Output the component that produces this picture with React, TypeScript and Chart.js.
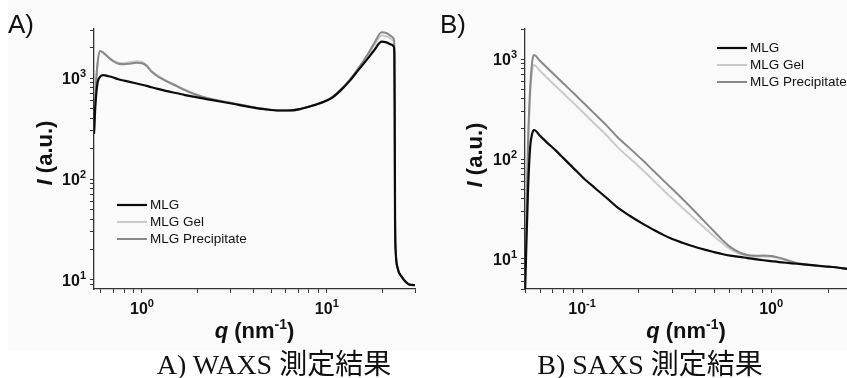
import React, { useEffect, useRef } from 'react';
import { Chart, registerables } from 'chart.js';

Chart.register(...registerables);

// ---------- data ----------
const seriesLabels = ['MLG', 'MLG Gel', 'MLG Precipitate'];
const seriesColors = ['#0b0b0b', '#cacaca', '#888888'];
const seriesWidths = [2.2, 2, 2];

// A) WAXS
const waxsQ = [0.55, 0.56, 0.575, 0.593, 0.618, 0.66, 0.70, 0.745, 0.80, 0.87, 0.936, 1.0, 1.06, 1.128, 1.25, 1.387, 1.55, 1.708, 1.9, 2.136, 2.5, 3.1, 3.8, 4.6, 5.5, 6.5, 7.2, 8.5, 10, 10.8, 12, 13.3, 14.8, 16.4, 18, 19.8, 21, 22.5, 23.0, 23.2, 23.3, 23.4, 23.6, 24.2, 25.4, 26.7, 28, 30];
const waxsMLG = [280, 550, 900, 1030, 1070, 1045, 1015, 975, 945, 912, 885, 860, 838, 812, 775, 740, 708, 680, 655, 630, 598, 558, 520, 493, 478, 480, 495, 538, 600, 650, 770, 940, 1200, 1510, 1880, 2300, 2260, 2140, 2060, 1750, 400, 40, 19, 13, 10.8, 9.6, 9.0, 8.9];
const waxsGel = [280, 700, 1400, 1870, 1790, 1610, 1490, 1420, 1410, 1445, 1470, 1450, 1350, 1180, 1030, 925, 840, 768, 705, 655, 610, 568, 525, 495, 480, 482, 497, 540, 605, 660, 785, 965, 1240, 1620, 2100, 2650, 2600, 2420, 2320, 1950, 420, 40, 19, 13, 10.8, 9.6, 9.0, 8.9];
const waxsPrec = [280, 700, 1400, 1860, 1780, 1600, 1470, 1390, 1375, 1400, 1420, 1405, 1320, 1155, 1010, 915, 830, 760, 700, 650, 606, 565, 523, 494, 479, 481, 496, 539, 603, 656, 780, 960, 1250, 1650, 2200, 2850, 2800, 2580, 2470, 2050, 430, 40, 19, 13, 10.8, 9.6, 9.0, 8.9];

// B) SAXS
const saxsQ = [0.050, 0.0508, 0.0518, 0.0531, 0.0545, 0.0557, 0.060, 0.0655, 0.0725, 0.0797, 0.0895, 0.1016, 0.116, 0.135, 0.155, 0.1795, 0.21, 0.24, 0.269, 0.30, 0.34, 0.405, 0.45, 0.50, 0.55, 0.607, 0.68, 0.75, 0.82, 0.911, 1.0, 1.1, 1.2, 1.368, 1.6, 1.9, 2.2, 2.52];
const saxsMLG = [5, 15, 50, 130, 180, 195, 170, 145, 122, 102, 82, 64.6, 51.9, 40.7, 32.4, 26.9, 22.4, 19.5, 17.4, 15.8, 14.5, 13.0, 12.3, 11.7, 11.2, 10.8, 10.5, 10.2, 9.95, 9.7, 9.5, 9.3, 9.15, 8.95, 8.7, 8.45, 8.25, 7.95];
const saxsGel = [6, 25, 120, 420, 780, 871, 759, 646, 537, 452, 368, 290, 227, 172, 130, 101, 77, 60.3, 49, 40.2, 32.4, 24, 20, 16.8, 14.5, 12.6, 11.3, 10.7, 10.5, 10.6, 10.5, 10.1, 9.7, 9.05, 8.65, 8.4, 8.22, 7.95];
const saxsPrec = [8, 30, 150, 500, 950, 1096, 955, 813, 676, 569, 462, 365, 286, 216, 163, 127, 96.4, 75.3, 61.1, 50.1, 39.8, 28.5, 23.1, 18.8, 15.6, 13.2, 11.6, 10.96, 10.76, 10.8, 10.7, 10.3, 9.8, 9.1, 8.7, 8.42, 8.23, 7.95];

// axis ranges
const waxsXRange = [0.55, 30];
const waxsYRange = [8.14, 3070];
const saxsXRange = [0.0499, 2.52];
const saxsYRange = [5.0, 2000];

const panelLabels = ['A)', 'B)'];
const captions = ['A) WAXS 測定結果', 'B) SAXS 測定結果'];
const yTitle = [{ t: 'I', italic: true }, { t: ' (a.u.)' }];
const xTitle = [{ t: 'q', italic: true }, { t: ' (nm' }, { t: '-1', sup: true }, { t: ')' }];

// ---------- helpers ----------
const FONT = '"Liberation Sans", Arial, Helvetica, sans-serif';

function buildLogTicks(scale: any) {
  const min = scale.min, max = scale.max;
  const ticks: any[] = [];
  for (let e = Math.floor(Math.log10(min)); e <= Math.ceil(Math.log10(max)); e++) {
    for (let m = 1; m < 10; m++) {
      const v = m * Math.pow(10, e);
      if (v >= min * 0.9999 && v <= max * 1.0001) ticks.push({ value: v, major: m === 1 });
    }
  }
  scale.ticks = ticks;
}

type Run = { t: string; italic?: boolean; sup?: boolean };
function measureRuns(ctx: CanvasRenderingContext2D, runs: Run[], size: number, supRatio: number) {
  const fontFor = (r: Run) => `${r.italic ? 'italic ' : ''}bold ${r.sup ? Math.round(size * supRatio) : size}px ${FONT}`;
  let total = 0;
  const widths = runs.map((r) => {
    ctx.font = fontFor(r);
    const w = ctx.measureText(r.t).width;
    total += w;
    return w;
  });
  return { total, widths, fontFor };
}
function drawRuns(ctx: CanvasRenderingContext2D, runs: Run[], x0: number, y: number, size: number, align: 'center' | 'right', supRatio = 0.62, supRise = 0.42) {
  const { total, widths, fontFor } = measureRuns(ctx, runs, size, supRatio);
  let x = align === 'center' ? x0 - total / 2 : x0 - total;
  runs.forEach((r, i) => {
    ctx.font = fontFor(r);
    ctx.fillText(r.t, x, r.sup ? y - size * supRise : y);
    x += widths[i];
  });
}

const powerRuns = (v: number): Run[] => [{ t: '10' }, { t: String(Math.round(Math.log10(v))), sup: true }];

const decorPlugin = {
  id: 'decor',
  afterDraw(chart: any, _args: any, opts: any) {
    const ctx: CanvasRenderingContext2D = chart.ctx;
    const a = chart.chartArea;
    ctx.save();
    ctx.fillStyle = '#111';
    ctx.textBaseline = 'alphabetic';
    ctx.textAlign = 'left';
    // tick labels (powers of ten) from the scales' own ticks
    const xs = chart.scales.x;
    const ys = chart.scales.y;
    xs.ticks.forEach((t: any) => {
      if (!t.major) return;
      const px = xs.getPixelForValue(t.value);
      drawRuns(ctx, powerRuns(t.value), px, a.bottom + 25, 16, 'center', 0.66, 0.45);
    });
    ys.ticks.forEach((t: any) => {
      if (!t.major) return;
      const py = ys.getPixelForValue(t.value);
      drawRuns(ctx, powerRuns(t.value), a.left - 8, py + 6, 16, 'right', 0.66, 0.45);
    });
    // y title
    ctx.save();
    ctx.translate(opts.yTitleX, opts.yTitleY);
    ctx.rotate(-Math.PI / 2);
    drawRuns(ctx, yTitle, 0, 8, 22, 'center');
    ctx.restore();
    // x title
    drawRuns(ctx, xTitle, (a.left + a.right) / 2, opts.xTitleY, 22, 'center');
    // legend
    ctx.font = `13.5px ${FONT}`;
    ctx.textBaseline = 'middle';
    chart.data.datasets.forEach((ds: any, i: number) => {
      const y = opts.legendY + i * 17;
      ctx.strokeStyle = ds.borderColor;
      ctx.lineWidth = ds.borderWidth;
      ctx.beginPath();
      ctx.moveTo(opts.legendX, y);
      ctx.lineTo(opts.legendX + 30, y);
      ctx.stroke();
      ctx.fillStyle = '#111';
      ctx.fillText(ds.label, opts.legendX + 33, y + 0.5);
    });
    ctx.restore();
  },
};

type PanelCfg = {
  left: number;
  width: number;
  q: number[];
  series: number[][];
  xRange: number[];
  yRange: number[];
  yAxisWidth: number;
  padRight: number;
  yTitleX: number;
  yTitleY: number;
  legendX: number;
  legendY: number;
};

const CANVAS_H = 350;
const PLOT_TOP = 29;
const PLOT_BOTTOM = 289;

function Panel({ cfg }: { cfg: PanelCfg }) {
  const ref = useRef<HTMLCanvasElement | null>(null);
  useEffect(() => {
    if (!ref.current) return;
    const orders = [0, 2, 1];
    const chart = new Chart(ref.current, {
      type: 'line',
      data: {
        datasets: cfg.series.map((vals, i) => ({
          label: seriesLabels[i],
          data: cfg.q.map((x, j) => ({ x, y: vals[j] })),
          borderColor: seriesColors[i],
          backgroundColor: seriesColors[i],
          borderWidth: seriesWidths[i],
          pointRadius: 0,
          cubicInterpolationMode: 'monotone' as const,
          borderJoinStyle: 'round' as const,
          fill: false,
          order: orders[i],
        })),
      },
      options: {
        responsive: false,
        animation: false,
        events: [],
        layout: { padding: { left: 0, right: cfg.padRight, top: PLOT_TOP, bottom: 0 } },
        plugins: {
          legend: { display: false },
          tooltip: { enabled: false },
          title: { display: false },
          decor: {
            yTitleX: cfg.yTitleX,
            yTitleY: cfg.yTitleY,
            xTitleY: 338,
            legendX: cfg.legendX,
            legendY: cfg.legendY,
          },
        } as any,
        scales: {
          x: {
            type: 'logarithmic',
            position: 'bottom',
            min: cfg.xRange[0],
            max: cfg.xRange[1],
            afterBuildTicks: buildLogTicks,
            afterFit: (s: any) => {
              s.height = CANVAS_H - PLOT_BOTTOM;
              s.paddingLeft = 0;
              s.paddingRight = 0;
            },
            ticks: { display: false, autoSkip: false, maxRotation: 0, minRotation: 0 },
            grid: { display: true, drawOnChartArea: false, drawTicks: true, tickLength: 4, tickColor: '#333', tickWidth: 1 },
            border: { display: true, color: '#333', width: 1.3 },
          },
          y: {
            type: 'logarithmic',
            position: 'left',
            min: cfg.yRange[0],
            max: cfg.yRange[1],
            afterBuildTicks: buildLogTicks,
            afterFit: (s: any) => {
              s.width = cfg.yAxisWidth;
              s.paddingTop = 0;
              s.paddingBottom = 0;
            },
            ticks: { display: false, autoSkip: false },
            grid: { display: true, drawOnChartArea: false, drawTicks: true, tickLength: 4, tickColor: '#333', tickWidth: 1 },
            border: { display: true, color: '#333', width: 1.3 },
          },
        } as any,
      },
      plugins: [decorPlugin as any],
    });
    return () => chart.destroy();
  }, [cfg]);
  return (
    <canvas
      ref={ref}
      width={cfg.width}
      height={CANVAS_H}
      style={{ position: 'absolute', left: cfg.left, top: 0, width: cfg.width, height: CANVAS_H }}
    />
  );
}

const waxsCfg: PanelCfg = {
  left: 0,
  width: 430,
  q: waxsQ,
  series: [waxsMLG, waxsGel, waxsPrec],
  xRange: waxsXRange,
  yRange: waxsYRange,
  yAxisWidth: 94,
  padRight: 15,
  yTitleX: 44,
  yTitleY: 153,
  legendX: 117,
  legendY: 205,
};

const saxsCfg: PanelCfg = {
  left: 430,
  width: 417,
  q: saxsQ,
  series: [saxsMLG, saxsGel, saxsPrec],
  xRange: saxsXRange,
  yRange: saxsYRange,
  yAxisWidth: 95,
  padRight: 0,
  yTitleX: 44,
  yTitleY: 155,
  legendX: 287,
  legendY: 48,
};

export default function App() {
  const labelStyle: React.CSSProperties = {
    position: 'absolute',
    top: 11,
    fontFamily: FONT,
    fontSize: 26,
    lineHeight: '26px',
    color: '#111',
    whiteSpace: 'nowrap',
  };
  const capStyle: React.CSSProperties = {
    position: 'absolute',
    top: 351,
    width: 300,
    textAlign: 'center',
    fontFamily: '"Liberation Serif", "Times New Roman", "Noto Sans CJK JP", serif',
    fontSize: 28,
    lineHeight: '28px',
    color: '#111',
    whiteSpace: 'nowrap',
  };
  return (
    <div style={{ position: 'absolute', left: 0, top: 0, width: 847, height: 378, overflow: 'hidden', background: '#ffffff' }}>
      <div style={{ position: 'absolute', left: 8, top: 0, width: 839, height: 350, background: '#fafafa' }} />
      <Panel cfg={waxsCfg} />
      <Panel cfg={saxsCfg} />
      <div style={{ ...labelStyle, left: 8 }}>{panelLabels[0]}</div>
      <div style={{ ...labelStyle, left: 440 }}>{panelLabels[1]}</div>
      <div style={{ ...capStyle, left: 124 }}>{captions[0]}</div>
      <div style={{ ...capStyle, left: 500 }}>{captions[1]}</div>
    </div>
  );
}
